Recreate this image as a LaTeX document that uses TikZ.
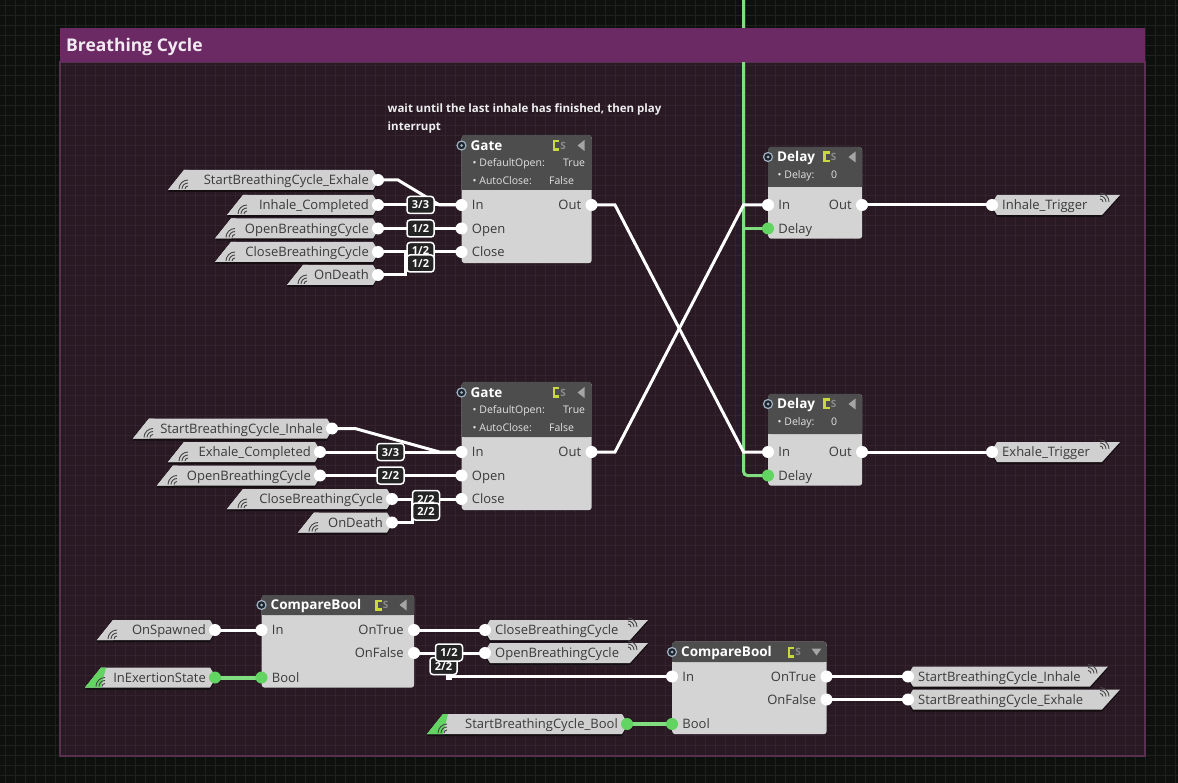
\documentclass[tikz,border=0pt]{standalone}
\usepackage{fontspec}
\setmainfont{Open Sans}
\pgfdeclarelayer{bg}
\pgfdeclarelayer{wires}
\pgfsetlayers{bg,wires,main}

\definecolor{outerbg}{RGB}{14,16,14}
\definecolor{outergrid}{RGB}{30,34,30}
\definecolor{groupbg}{RGB}{40,25,35}
\definecolor{groupgrid}{RGB}{52,35,47}
\definecolor{groupbar}{RGB}{108,42,100}
\definecolor{groupedge}{RGB}{88,48,82}
\definecolor{titlecol}{RGB}{242,234,242}
\definecolor{nodehdr}{RGB}{77,77,77}
\definecolor{nodebody}{RGB}{212,212,212}
\definecolor{tagfill}{RGB}{208,208,208}
\definecolor{tagshadow}{RGB}{20,14,18}
\definecolor{labelcol}{RGB}{58,58,58}
\definecolor{propcol}{RGB}{226,226,226}
\definecolor{notecol}{RGB}{238,238,238}
\definecolor{boolgreen}{RGB}{98,212,98}
\definecolor{busgreen}{RGB}{128,222,128}
\definecolor{badgefill}{RGB}{36,36,36}
\definecolor{csgreen}{RGB}{200,216,62}
\definecolor{csgray}{RGB}{140,140,140}
\definecolor{arrowgray}{RGB}{165,165,165}
\definecolor{dotfill}{RGB}{30,36,44}
\definecolor{dotring}{RGB}{160,178,196}
\definecolor{signalcol}{RGB}{70,70,70}

\tikzset{
  wire/.style={draw=white, line width=3pt},
  buswire/.style={draw=busgreen, line width=3pt},
  boolwire/.style={draw=busgreen, line width=4pt},
  port/.style={circle, fill=white, inner sep=0pt, minimum size=12pt},
  boolport/.style={circle, fill=boolgreen, inner sep=0pt, minimum size=12pt},
  lbl/.style={font=\fontsize{13}{13}\selectfont, text=labelcol, inner sep=0pt,
              text height=9.3pt, text depth=0pt},
  inlbl/.style={label={[lbl, label distance=4pt]0:#1}},
  outlbl/.style={label={[lbl, label distance=4pt]180:#1}},
  nodebox/.style={fill=nodebody, rounded corners=3pt, inner sep=0pt, anchor=north west},
  ttl/.style={font=\fontsize{13.5}{14}\selectfont\bfseries, text=white, inner sep=0pt,
              text height=9.8pt, text depth=0pt, anchor=west},
  prop/.style={font=\fontsize{10.5}{11}\selectfont, text=propcol, inner sep=0pt,
               text height=7.6pt, text depth=0pt, anchor=west},
  cstext/.style={font=\fontsize{10}{10}\selectfont\bfseries, text=csgray, inner sep=0pt},
  badge/.style={font=\fontsize{11}{11}\selectfont\bfseries, text=white, draw=white,
                line width=1.5pt, fill=badgefill, rounded corners=3pt, inner sep=0pt,
                minimum width=27pt, minimum height=17pt, text height=8pt, text depth=0pt},
  dotring/.style={circle, fill=dotfill, draw=dotring, line width=1.2pt, minimum size=9pt, inner sep=0pt},
  dotcore/.style={circle, fill=dotring, minimum size=3pt, inner sep=0pt},
  signal/.style={draw=signalcol, line width=0.9pt},
  note/.style={font=\fontsize{11.5}{12}\selectfont\bfseries, text=notecol, inner sep=0pt,
               anchor=west, text height=8.3pt, text depth=0pt},
  grouptitle/.style={font=\fontsize{17.5}{18}\selectfont\bfseries, text=titlecol, inner sep=0pt,
                     anchor=west, text height=12.5pt, text depth=0pt},
}

% flow node: name, left, top, width, header height, total height
\newcommand{\flowbox}[6]{%
  \node[nodebox, minimum width=#4pt, minimum height=#6pt] (#1) at (#2,#3) {};
  \fill[nodehdr, rounded corners=3pt] (#2,#3) rectangle ({#2+#4},{#3+#5});
  \fill[nodehdr] (#2,{#3+4}) rectangle ({#2+#4},{#3+#5});
}
% header content: name, left, right, title y, title
\newcommand{\flowtitle}[5]{%
  \node[dotring] (#1-dot) at (#2,#4) {};
  \node[dotcore] (#1-core) at (#2,#4) {};
  \node[ttl] (#1-title) at ({#2+9},#4) {#5};
  \fill[csgreen] ({#3-39},{#4-5.5}) rectangle ({#3-32.5},{#4+5.5});
  \fill[nodehdr] ({#3-36.5},{#4-3}) rectangle ({#3-32.5},{#4+3});
  \node[cstext] (#1-cs) at ({#3-28.5},#4) {S};
}
\newcommand{\menuleft}[2]{\fill[arrowgray] ({#1+3.5},{#2-5.5}) -- ({#1-3.5},#2) -- ({#1+3.5},{#2+5.5}) -- cycle;}
\newcommand{\menudown}[2]{\fill[arrowgray] ({#1-5},{#2-3.5}) -- ({#1+5},{#2-3.5}) -- (#1,{#2+3.5}) -- cycle;}

% event receiver tag: [strip colour] name, left x, port x, port y, text, port style
\newcommand{\recvtag}[7][tagfill]{%
  \fill[tagshadow] ({#3},{#5+12}) -- ({#3+16},{#5-8}) -- ({#4-5},{#5-8}) -- ({#4+1},{#5+2}) -- ({#4-5},{#5+12}) -- cycle;
  \fill[tagfill] ({#3},{#5+10}) -- ({#3+16},{#5-10}) -- ({#4-5},{#5-10}) -- ({#4+1},{#5}) -- ({#4-5},{#5+10}) -- cycle;
  \fill[#1] ({#3},{#5+10}) -- ({#3+16},{#5-10}) -- ({#3+21},{#5-10}) -- ({#3+16},{#5+10}) -- cycle;
  \foreach \r in {3,6,9} \draw[signal] ({#3+20-\r},{#5+9}) arc[start angle=180, end angle=270, radius=\r];
  \node[lbl, anchor=east] (#2-text) at ({#4-9},#5) {#6};
  \node[#7] (#2) at (#4,#5) {};
}
% event sender tag: name, port x, port y, top-right x, text
\newcommand{\sendtag}[5]{%
  \fill[tagshadow] ({#2-1},{#3+2}) -- ({#2+5},{#3-8}) -- ({#4},{#3-8}) -- ({#4-18},{#3+12}) -- ({#2+5},{#3+12}) -- cycle;
  \fill[tagfill] ({#2-1},{#3}) -- ({#2+5},{#3-10}) -- ({#4},{#3-10}) -- ({#4-18},{#3+10}) -- ({#2+5},{#3+10}) -- cycle;
  \foreach \r in {3,6,9} \draw[signal] ({#4-20},{#3-3-\r}) arc[start angle=270, end angle=360, radius=\r];
  \node[lbl, anchor=west] (#1-text) at ({#2+10},#3) {#5};
  \node[port] (#1) at (#2,#3) {};
}

\begin{document}
\begin{tikzpicture}[x=1pt,y=-1pt]
\useasboundingbox (0,0) rectangle (1178,783);

% canvas and group frame
\begin{pgfonlayer}{bg}
  \fill[outerbg] (0,0) rectangle (1178,783);
  \foreach \gx in {5,15,...,1175} \draw[outergrid, line width=0.6pt] (\gx,0) -- (\gx,783);
  \foreach \gy in {5,15,...,780} \draw[outergrid, line width=0.6pt] (0,\gy) -- (1178,\gy);
  \fill[groupbg] (60,62) rectangle (1145,756);
  \foreach \gx in {65,75,...,1140} \draw[groupgrid, line width=0.6pt] (\gx,62) -- (\gx,756);
  \foreach \gy in {65,75,...,750} \draw[groupgrid, line width=0.6pt] (60,\gy) -- (1145,\gy);
  \draw[groupedge, line width=1.5pt] (60,62) rectangle (1145,756);
\end{pgfonlayer}

\fill[groupbar] (60,28) rectangle (1145,62);
\node[grouptitle] (group-title) at (66,45) {Breathing Cycle};

\node[note] (note-1) at (387.5,108) {wait until the last inhale has finished, then play};
\node[note] (note-2) at (387.5,126) {interrupt};

% ---------- Gate (upper) ----------
\flowbox{gate1}{461.5}{135}{130}{55}{128}
\flowtitle{gate1}{461.5}{591.5}{145.5}{Gate}
\menuleft{581}{145.5}
\node[prop] (gate1-p1) at (472.5,163) {\textbullet\ DefaultOpen:};
\node[prop] (gate1-v1) at (563,163) {True};
\node[prop] (gate1-p2) at (472.5,181) {\textbullet\ AutoClose:};
\node[prop] (gate1-v2) at (549,181) {False};
\node[port, inlbl=In] (g1-in) at (461.5,205) {};
\node[port, inlbl=Open] (g1-open) at (461.5,228.5) {};
\node[port, inlbl=Close] (g1-close) at (461.5,252) {};
\node[port, outlbl=Out] (g1-out) at (591.5,205) {};

% ---------- Gate (lower) ----------
\flowbox{gate2}{461.5}{382}{130}{55}{128}
\flowtitle{gate2}{461.5}{591.5}{392.5}{Gate}
\menuleft{581}{392.5}
\node[prop] (gate2-p1) at (472.5,410) {\textbullet\ DefaultOpen:};
\node[prop] (gate2-v1) at (563,410) {True};
\node[prop] (gate2-p2) at (472.5,428) {\textbullet\ AutoClose:};
\node[prop] (gate2-v2) at (549,428) {False};
\node[port, inlbl=In] (g2-in) at (461.5,452) {};
\node[port, inlbl=Open] (g2-open) at (461.5,475.5) {};
\node[port, inlbl=Close] (g2-close) at (461.5,499) {};
\node[port, outlbl=Out] (g2-out) at (591.5,452) {};

% ---------- Delays ----------
\flowbox{delay1}{768}{147}{94}{40}{91.5}
\flowtitle{delay1}{768}{862}{157}{Delay}
\menuleft{852}{157}
\node[prop] (delay1-p1) at (777.5,174.5) {\textbullet\ Delay:};
\node[prop] (delay1-v1) at (831,174.5) {0};
\node[port, inlbl=In] (d1-in) at (768,205) {};
\node[boolport, inlbl=Delay] (d1-delay) at (768,228.5) {};
\node[port, outlbl=Out] (d1-out) at (862,205) {};

\flowbox{delay2}{768}{394}{94}{40}{91.5}
\flowtitle{delay2}{768}{862}{404}{Delay}
\menuleft{852}{404}
\node[prop] (delay2-p1) at (777.5,421.5) {\textbullet\ Delay:};
\node[prop] (delay2-v1) at (831,421.5) {0};
\node[port, inlbl=In] (d2-in) at (768,452) {};
\node[boolport, inlbl=Delay] (d2-delay) at (768,475.5) {};
\node[port, outlbl=Out] (d2-out) at (862,452) {};

% ---------- CompareBool nodes ----------
\flowbox{cmp1}{261.5}{595}{152.5}{20}{92.5}
\flowtitle{cmp1}{261.5}{414}{605}{CompareBool}
\menuleft{403}{605}
\node[port, inlbl=In] (c1-in) at (261.5,630) {};
\node[boolport, inlbl=Bool] (c1-bool) at (261.5,677.5) {};
\node[port, outlbl=OnTrue] (c1-true) at (414,630) {};
\node[port, outlbl=OnFalse] (c1-false) at (414,653) {};

\flowbox{cmp2}{672}{641.5}{154.5}{20.5}{92.5}
\flowtitle{cmp2}{672}{826.5}{652}{CompareBool}
\menudown{816.5}{652}
\node[port, inlbl=In] (c2-in) at (672,676.5) {};
\node[boolport, inlbl=Bool] (c2-bool) at (672,724) {};
\node[port, outlbl=OnTrue] (c2-true) at (826.5,676.5) {};
\node[port, outlbl=OnFalse] (c2-false) at (826.5,699.5) {};

% ---------- event receivers ----------
\recvtag{rx-sbc-exhale}{168}{378}{180}{StartBreathingCycle\_Exhale}{port}
\recvtag{rx-inhale-done}{227}{378}{205}{Inhale\_Completed}{port}
\recvtag{rx-open1}{215}{378}{228.5}{OpenBreathingCycle}{port}
\recvtag{rx-close1}{215}{378}{252}{CloseBreathingCycle}{port}
\recvtag{rx-death1}{287}{378}{275}{OnDeath}{port}

\recvtag{rx-sbc-inhale}{133}{332}{428.5}{StartBreathingCycle\_Inhale}{port}
\recvtag{rx-exhale-done}{168}{320}{452}{Exhale\_Completed}{port}
\recvtag{rx-open2}{157}{320}{475.5}{OpenBreathingCycle}{port}
\recvtag{rx-close2}{227}{392}{499}{CloseBreathingCycle}{port}
\recvtag{rx-death2}{298}{392}{522.5}{OnDeath}{port}

\recvtag{rx-spawned}{97}{215}{630}{OnSpawned}{port}
\recvtag[boolgreen]{rx-exertion}{85}{215}{677.5}{InExertionState}{boolport}
\recvtag[boolgreen]{rx-sbc-bool}{427}{627}{724}{StartBreathingCycle\_Bool}{boolport}

% ---------- event senders ----------
\sendtag{tx-inhale-trig}{992}{205}{1120}{Inhale\_Trigger}
\sendtag{tx-exhale-trig}{992}{452}{1120}{Exhale\_Trigger}
\sendtag{tx-close}{485}{630}{648}{CloseBreathingCycle}
\sendtag{tx-open}{485}{653}{648}{OpenBreathingCycle}
\sendtag{tx-sbc-inhale}{908}{676.5}{1108}{StartBreathingCycle\_Inhale}
\sendtag{tx-sbc-exhale}{908}{699.5}{1120}{StartBreathingCycle\_Exhale}

% ---------- connections ----------
\begin{pgfonlayer}{wires}
  \coordinate (bus-top) at (743.5,0);
  \draw[buswire, rounded corners=4pt] (bus-top) -- (bus-top |- d2-delay) -- (d2-delay.center);
  \draw[buswire] (bus-top |- d1-delay) -- (d1-delay.center);

  \draw[wire] (rx-sbc-exhale.center) -- ++(20,0) -- ([xshift=-22pt]g1-in.center) -- (g1-in.center);
  \draw[wire] (rx-inhale-done.center) -- (g1-in.center);
  \draw[wire] (rx-open1.center) -- (g1-open.center);
  \draw[wire] (rx-close1.center) -- (g1-close.center);
  \draw[wire] (rx-death1.center) -- ++(27,0) |- (g1-close.center);

  \draw[wire] (rx-sbc-inhale.center) -- ++(23,0) -- ([xshift=-22pt]g2-in.center) -- (g2-in.center);
  \draw[wire] (rx-exhale-done.center) -- (g2-in.center);
  \draw[wire] (rx-open2.center) -- (g2-open.center);
  \draw[wire] (rx-close2.center) -- (g2-close.center);
  \draw[wire] (rx-death2.center) -- ++(20,0) |- (g2-close.center);

  \draw[wire] (g1-out.center) -- ++(23.5,0) -- ([xshift=-24.5pt]d2-in.center) -- (d2-in.center);
  \draw[wire] (g2-out.center) -- ++(23.5,0) -- ([xshift=-24.5pt]d1-in.center) -- (d1-in.center);
  \draw[wire] (d1-out.center) -- (tx-inhale-trig.center);
  \draw[wire] (d2-out.center) -- (tx-exhale-trig.center);

  \draw[wire] (rx-spawned.center) -- (c1-in.center);
  \draw[boolwire] (rx-exertion.center) -- (c1-bool.center);
  \draw[wire] (c1-true.center) -- (tx-close.center);
  \draw[wire] (c1-false.center) -- (tx-open.center);
  \draw[wire] (c1-false.center) -- ++(35,0) |- (c2-in.center);
  \draw[wire] (c2-true.center) -- (tx-sbc-inhale.center);
  \draw[wire] (c2-false.center) -- (tx-sbc-exhale.center);
  \draw[boolwire] (rx-sbc-bool.center) -- (c2-bool.center);
\end{pgfonlayer}

% ---------- connection counters ----------
\node[badge] (bd-g1-in) at (420.5,205) {3/3};
\node[badge] (bd-g1-open) at (420.5,228.5) {1/2};
\node[badge] (bd-g1-close) at (420.5,251) {1/2};
\node[badge] (bd-g1-death) at (420.5,263.5) {1/2};
\node[badge] (bd-g2-in) at (390.5,452) {3/3};
\node[badge] (bd-g2-open) at (390.5,475.5) {2/2};
\node[badge] (bd-g2-close) at (426,499) {2/2};
\node[badge] (bd-g2-death) at (426,511.5) {2/2};
\node[fill=white, minimum size=6pt, inner sep=0pt] (bd-c1-tab) at (449,676.5) {};
\node[badge] (bd-c1-in2) at (443.5,666) {2/2};
\node[badge] (bd-c1-open) at (449,652.5) {1/2};

\end{tikzpicture}
\end{document}
